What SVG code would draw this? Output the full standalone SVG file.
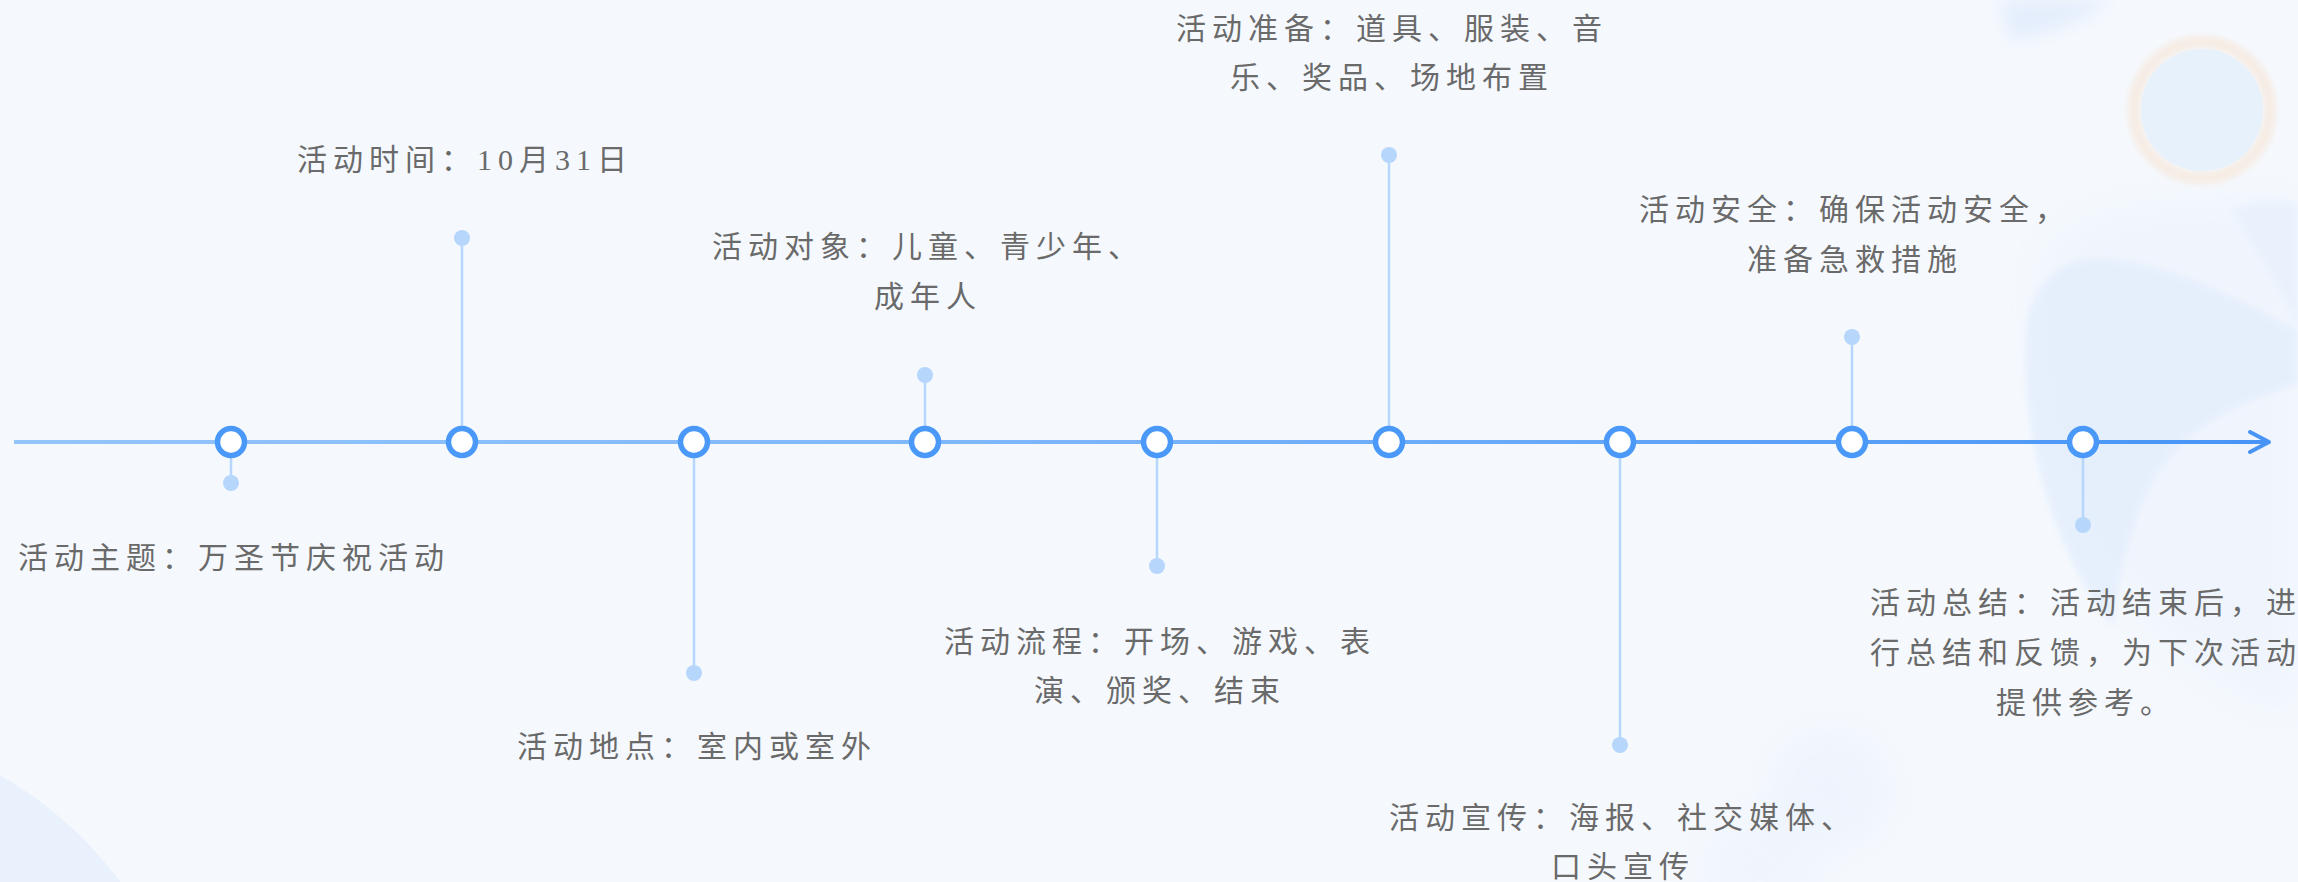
<svg xmlns="http://www.w3.org/2000/svg" width="2298" height="882" viewBox="0 0 2298 882">
<defs>
<style>
.lbl{font-family:'Liberation Serif','Noto Sans CJK SC',serif;font-size:30px;fill:#6a6a6a;letter-spacing:6px;text-anchor:middle}
.node{fill:#fff;stroke:#4a99f8;stroke-width:5.5}
.stem{stroke:#b6d6fc;stroke-width:2.5}
.dot{fill:#b6d6fc}
</style>
<linearGradient id="tl" gradientUnits="userSpaceOnUse" x1="14" y1="0" x2="2269" y2="0">
<stop offset="0" stop-color="#94c5fc"/>
<stop offset="0.45" stop-color="#7db6fa"/>
<stop offset="1" stop-color="#4794f6"/>
</linearGradient>
<filter id="blur8" x="-50%" y="-50%" width="200%" height="200%"><feGaussianBlur stdDeviation="8"/></filter>
<filter id="blur20" x="-50%" y="-50%" width="200%" height="200%"><feGaussianBlur stdDeviation="20"/></filter>
<filter id="blur3" x="-50%" y="-50%" width="200%" height="200%"><feGaussianBlur stdDeviation="3"/></filter>
</defs>
<g id="background">
<rect width="2298" height="882" fill="#f5f9fe"/>
<circle cx="-190" cy="1110" r="385" fill="#e9f1fd"/>
<path d="M2000 0 L2110 0 C2090 20 2050 35 2010 40 Z" fill="#e4eefc" filter="url(#blur8)"/>
<path d="M2040 250 C2080 200 2200 190 2298 200 L2298 720 C2230 700 2140 640 2100 560 C2060 480 2020 340 2040 250 Z" fill="#f0f5fd" filter="url(#blur20)"/>
<path d="M2026 330 C2020 450 2060 560 2113 627 C2120 560 2140 490 2170 457 C2200 420 2260 395 2298 385 L2298 330 C2240 300 2150 250 2080 260 C2045 270 2028 300 2026 330 Z" fill="#e2edfc" opacity="0.75" filter="url(#blur3)"/>
<path d="M2230 210 C2260 195 2290 200 2298 205 L2298 330 C2280 290 2255 250 2230 210 Z" fill="#e8f1fc" opacity="0.8" filter="url(#blur3)"/>
<circle cx="1830" cy="790" r="60" fill="#eaf1fc" opacity="0.6" filter="url(#blur20)"/>
<circle cx="1760" cy="870" r="60" fill="#edf3fc" opacity="0.6" filter="url(#blur20)"/>
<circle cx="2202" cy="110" r="68" fill="none" stroke="#f6ece4" stroke-width="13" filter="url(#blur3)"/>
<circle cx="2202" cy="110" r="61" fill="#e6f1fc"/>
</g>
<g id="connectors">
<line x1="14" y1="442" x2="2268" y2="442" stroke="url(#tl)" stroke-width="4"/>
<polyline points="2250,432 2269,442 2250,452" fill="none" stroke="#4794f6" stroke-width="4" stroke-linecap="round" stroke-linejoin="round"/>
<line class="stem" x1="231" y1="442" x2="231" y2="483"/>
<line class="stem" x1="462" y1="442" x2="462" y2="238"/>
<line class="stem" x1="694" y1="442" x2="694" y2="673"/>
<line class="stem" x1="925" y1="442" x2="925" y2="375"/>
<line class="stem" x1="1157" y1="442" x2="1157" y2="566"/>
<line class="stem" x1="1389" y1="442" x2="1389" y2="155"/>
<line class="stem" x1="1620" y1="442" x2="1620" y2="745"/>
<line class="stem" x1="1852" y1="442" x2="1852" y2="337"/>
<line class="stem" x1="2083" y1="442" x2="2083" y2="525"/>
</g>
<g id="n1"><circle class="node" cx="231" cy="442" r="13.5"/><circle class="dot" cx="231" cy="483" r="8"/><text class="lbl" x="234" y="568">活动主题：万圣节庆祝活动</text></g>
<g id="n2"><circle class="node" cx="462" cy="442" r="13.5"/><circle class="dot" cx="462" cy="238" r="8"/><text class="lbl" x="465" y="170">活动时间：10月31日</text></g>
<g id="n3"><circle class="node" cx="694" cy="442" r="13.5"/><circle class="dot" cx="694" cy="673" r="8"/><text class="lbl" x="697" y="757">活动地点：室内或室外</text></g>
<g id="n4"><circle class="node" cx="925" cy="442" r="13.5"/><circle class="dot" cx="925" cy="375" r="8"/><text class="lbl" x="928" y="257">活动对象：儿童、青少年、</text><text class="lbl" x="928" y="307">成年人</text></g>
<g id="n5"><circle class="node" cx="1157" cy="442" r="13.5"/><circle class="dot" cx="1157" cy="566" r="8"/><text class="lbl" x="1160" y="652">活动流程：开场、游戏、表</text><text class="lbl" x="1160" y="701">演、颁奖、结束</text></g>
<g id="n6"><circle class="node" cx="1389" cy="442" r="13.5"/><circle class="dot" cx="1389" cy="155" r="8"/><text class="lbl" x="1392" y="39">活动准备：道具、服装、音</text><text class="lbl" x="1392" y="88">乐、奖品、场地布置</text></g>
<g id="n7"><circle class="node" cx="1620" cy="442" r="13.5"/><circle class="dot" cx="1620" cy="745" r="8"/><text class="lbl" x="1623" y="828">活动宣传：海报、社交媒体、</text><text class="lbl" x="1623" y="877">口头宣传</text></g>
<g id="n8"><circle class="node" cx="1852" cy="442" r="13.5"/><circle class="dot" cx="1852" cy="337" r="8"/><text class="lbl" x="1855" y="220">活动安全：确保活动安全，</text><text class="lbl" x="1855" y="270">准备急救措施</text></g>
<g id="n9"><circle class="node" cx="2083" cy="442" r="13.5"/><circle class="dot" cx="2083" cy="525" r="8"/><text class="lbl" x="2086" y="613">活动总结：活动结束后，进</text><text class="lbl" x="2086" y="663">行总结和反馈，为下次活动</text><text class="lbl" x="2086" y="713">提供参考。</text></g>
</svg>
